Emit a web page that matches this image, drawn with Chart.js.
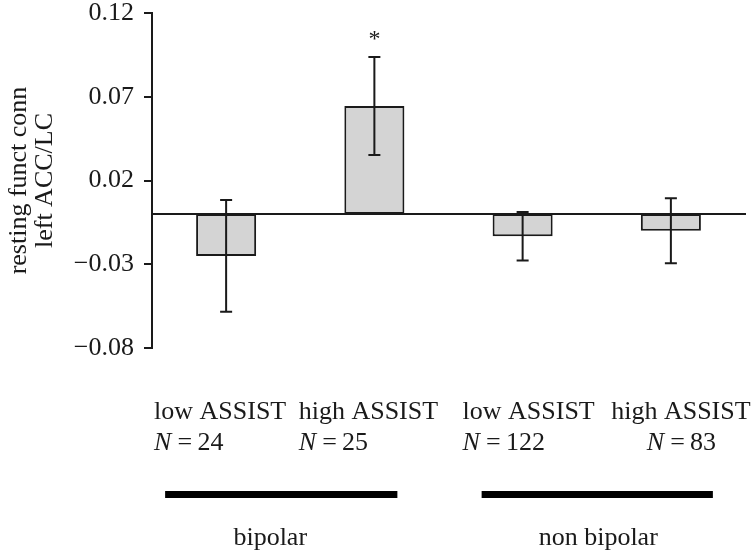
<!DOCTYPE html>
<html lang="en">
<head>
    <meta charset="utf-8">
    <title>resting funct conn</title>
    <style>
        body { margin: 0; background: #fff; }
        .chartBox { width: 753px; height: 552px; }
    </style>
</head>
<body>
    <div class="chartBox">
        <canvas id="myChart"></canvas>
    </div>
    <script src="https://cdn.jsdelivr.net/npm/chart.js/dist/chart.umd.min.js"></script>
    <script>
        // data
        const categories = ['low ASSIST', 'high ASSIST', 'low ASSIST', 'high ASSIST'];
        const counts = [24, 25, 122, 83];
        const means = [-0.025, 0.0645, -0.0133, -0.0100];
        const errors = [0.0333, 0.0293, 0.0145, 0.0194];
        const marks = ['', '*', '', ''];
        const groups = ['bipolar', 'non bipolar'];
        const groupMembers = [[0, 1], [2, 3]];
        const yTicks = [-0.08, -0.03, 0.02, 0.07, 0.12];

        const ink = '#1a1a1a';
        const serif = "'Liberation Serif', 'Times New Roman', serif";
        Chart.defaults.font.family = serif;
        Chart.defaults.color = ink;

        function fmt(v) {
            return (v < 0 ? '\u2212' : '') + Math.abs(v).toFixed(2);
        }

        // error bars + asterisk
        const errorBars = {
            id: 'errorBars',
            afterDatasetsDraw(chart) {
                const ctx = chart.ctx;
                const y = chart.scales.y;
                const meta = chart.getDatasetMeta(0);
                ctx.save();
                ctx.strokeStyle = ink;
                ctx.lineWidth = 2;
                meta.data.forEach((bar, i) => {
                    const top = y.getPixelForValue(means[i] + errors[i]);
                    const bot = y.getPixelForValue(means[i] - errors[i]);
                    ctx.beginPath();
                    ctx.moveTo(bar.x, top);
                    ctx.lineTo(bar.x, bot);
                    ctx.moveTo(bar.x - 6, top);
                    ctx.lineTo(bar.x + 6, top);
                    ctx.moveTo(bar.x - 6, bot);
                    ctx.lineTo(bar.x + 6, bot);
                    ctx.stroke();
                    if (marks[i]) {
                        ctx.fillStyle = ink;
                        ctx.font = '24px ' + serif;
                        ctx.textAlign = 'center';
                        ctx.textBaseline = 'middle';
                        ctx.fillText(marks[i], bar.x, top - 17);
                    }
                });
                ctx.restore();
            }
        };

        // category labels, N counts, group bars under the plot
        const bottomLabels = {
            id: 'bottomLabels',
            afterDraw(chart) {
                const ctx = chart.ctx;
                const x = chart.scales.x;
                const base = chart.chartArea.bottom;
                const dx = [-6, -6, 6, 10];
                ctx.save();
                ctx.fillStyle = ink;
                ctx.textBaseline = 'middle';
                categories.forEach((c, i) => {
                    const cx = x.getPixelForValue(i) + dx[i];
                    ctx.font = '26px ' + serif;
                    const w = ctx.measureText(c).width;
                    ctx.textAlign = 'left';
                    ctx.fillText(c, cx - w / 2, base + 64);

                    const rest = '\u2009=\u2009' + counts[i];
                    ctx.font = 'italic 26px ' + serif;
                    const wn = ctx.measureText('N').width;
                    ctx.font = '26px ' + serif;
                    const wr = ctx.measureText(rest).width;
                    const left = i === 3 ? cx - (wn + wr) / 2 : cx - w / 2;
                    ctx.font = 'italic 26px ' + serif;
                    ctx.fillText('N', left, base + 95);
                    ctx.font = '26px ' + serif;
                    ctx.fillText(rest, left + wn + 1, base + 95);
                });

                const ext = [[-61, 23], [-41, 42]];
                const ldx = [-11, 1];
                ctx.fillStyle = '#000';
                groups.forEach((g, k) => {
                    const a = x.getPixelForValue(groupMembers[k][0]) + ext[k][0];
                    const b = x.getPixelForValue(groupMembers[k][1]) + ext[k][1];
                    ctx.fillRect(a, base + 143, b - a, 7);
                    ctx.fillStyle = ink;
                    ctx.font = '26px ' + serif;
                    ctx.textAlign = 'center';
                    ctx.fillText(g, (a + b) / 2 + ldx[k], base + 190);
                    ctx.fillStyle = '#000';
                });
                ctx.restore();
            }
        };

        const data = {
            labels: categories,
            datasets: [{
                data: means,
                backgroundColor: '#d4d4d4',
                borderColor: ink,
                borderWidth: 2,
                borderSkipped: false,
                barPercentage: 0.405,
                categoryPercentage: 1
            }]
        };

        const config = {
            type: 'bar',
            data,
            options: {
                responsive: true,
                maintainAspectRatio: false,
                animation: false,
                layout: { padding: { top: 13, right: 8, bottom: 204, left: 0 } },
                plugins: {
                    legend: { display: false },
                    tooltip: { enabled: false }
                },
                scales: {
                    x: {
                        type: 'category',
                        position: { y: 0 },
                        offset: true,
                        grid: { display: false },
                        border: { display: true, color: ink, width: 2 },
                        ticks: { display: false },
                        afterFit(scale) {
                            scale.height = 0;
                            scale.paddingLeft = 0;
                            scale.paddingRight = 0;
                        }
                    },
                    y: {
                        min: -0.08,
                        max: 0.12,
                        afterBuildTicks(scale) {
                            scale.ticks = yTicks.map(v => ({ value: v }));
                        },
                        afterFit(scale) {
                            scale.width = 152;
                            scale.paddingTop = 0;
                            scale.paddingBottom = 0;
                        },
                        grid: {
                            drawOnChartArea: false,
                            drawTicks: true,
                            tickLength: 8,
                            color: ink,
                            lineWidth: 2
                        },
                        border: { display: true, color: ink, width: 2 },
                        ticks: {
                            padding: 10,
                            font: { size: 26, lineHeight: 1 },
                            color: ink,
                            callback: v => fmt(v)
                        },
                        title: {
                            display: true,
                            text: ['resting funct conn', 'left ACC/LC'],
                            font: { size: 26, lineHeight: 1.0 },
                            color: ink,
                            padding: { top: 6, bottom: 0 }
                        }
                    }
                }
            },
            plugins: [errorBars, bottomLabels]
        };

        const myChart = new Chart(document.getElementById('myChart'), config);
    </script>
</body>
</html>
